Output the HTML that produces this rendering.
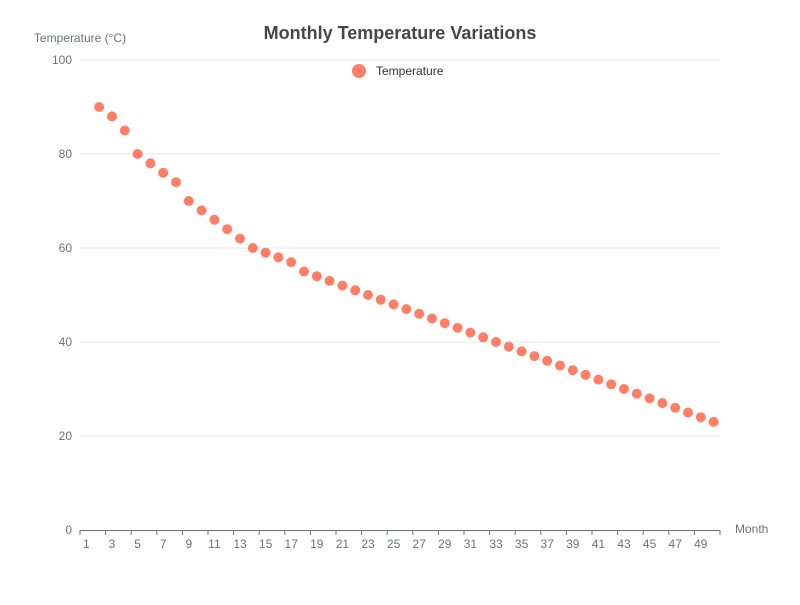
<!DOCTYPE html>
<html><head><meta charset="utf-8"><style>
body{margin:0;background:#fff;font-family:"Liberation Sans",sans-serif}
</style></head><body>
<svg id="c" width="800" height="600" xmlns="http://www.w3.org/2000/svg">
<text x="400" y="39" text-anchor="middle" font-size="18" font-weight="bold" fill="#464646">Monthly Temperature Variations</text>
<text x="80" y="42" text-anchor="middle" font-size="12" fill="#6e7079">Temperature (°C)</text>
<text x="735" y="533" font-size="12" fill="#6e7079">Month</text>
<g><circle cx="359" cy="71" r="7" fill="#ff7f66"/><text x="376" y="75" font-size="12" fill="#333">Temperature</text></g>
<g id="grid"></g><g id="pts"></g>
</svg>
<script>
const categories=[];for(let i=1;i<=50;i++)categories.push(i);
const months=[2,3,4,5,6,7,8,9,10,11,12,13,14,15,16,17,18,19,20,21,22,23,24,25,26,27,28,29,30,31,32,33,34,35,36,37,38,39,40,41,42,43,44,45,46,47,48,49,50];
const temps=[90,88,85,80,78,76,74,70,68,66,64,62,60,59,58,57,55,54,53,52,51,50,49,48,47,46,45,44,43,42,41,40,39,38,37,36,35,34,33,32,31,30,29,28,27,26,25,24,23];
const yTicks=[0,20,40,60,80,100];
const L=80,R=720,T=60,B=530,NS='http://www.w3.org/2000/svg';
const bw=(R-L)/categories.length;
const xs=c=>L+bw*(categories.indexOf(c)+0.5);
const ys=v=>B-(v/100)*(B-T);
const g=document.getElementById('grid'),p=document.getElementById('pts');
function mk(t,a,par){const e=document.createElementNS(NS,t);for(const k in a)e.setAttribute(k,a[k]);par.appendChild(e);return e;}
yTicks.forEach(v=>{
 if(v>0){const l=mk('line',{x1:L,x2:R,y1:ys(v),y2:ys(v),stroke:'#e0e6f1'},g);
 
 }
 const t=mk('text',{x:L-8,y:ys(v)+4,'text-anchor':'end','font-size':12,fill:'#6e7079'},g);t.textContent=v;
 
 
});
const ax=mk('line',{x1:L,x2:R,y1:B+0.5,y2:B+0.5,stroke:'#6e7079'},g);


categories.forEach((c,i)=>{
 if(i%2===0){
  const x=L+bw*i;
  mk('line',{x1:x,x2:x,y1:B,y2:B+5,stroke:'#6e7079'},g);
  const t=mk('text',{x:xs(c),y:B+18,'text-anchor':'middle','font-size':12,fill:'#6e7079'},g);t.textContent=c;
  
  
 }
});
mk('line',{x1:R,x2:R,y1:B,y2:B+5,stroke:'#6e7079'},g);
months.forEach((m,i)=>{
 const c=mk('circle',{cx:xs(m),cy:ys(temps[i]),r:5,fill:'#ff7f66'},p);
 
 
});
</script>
</body></html>
